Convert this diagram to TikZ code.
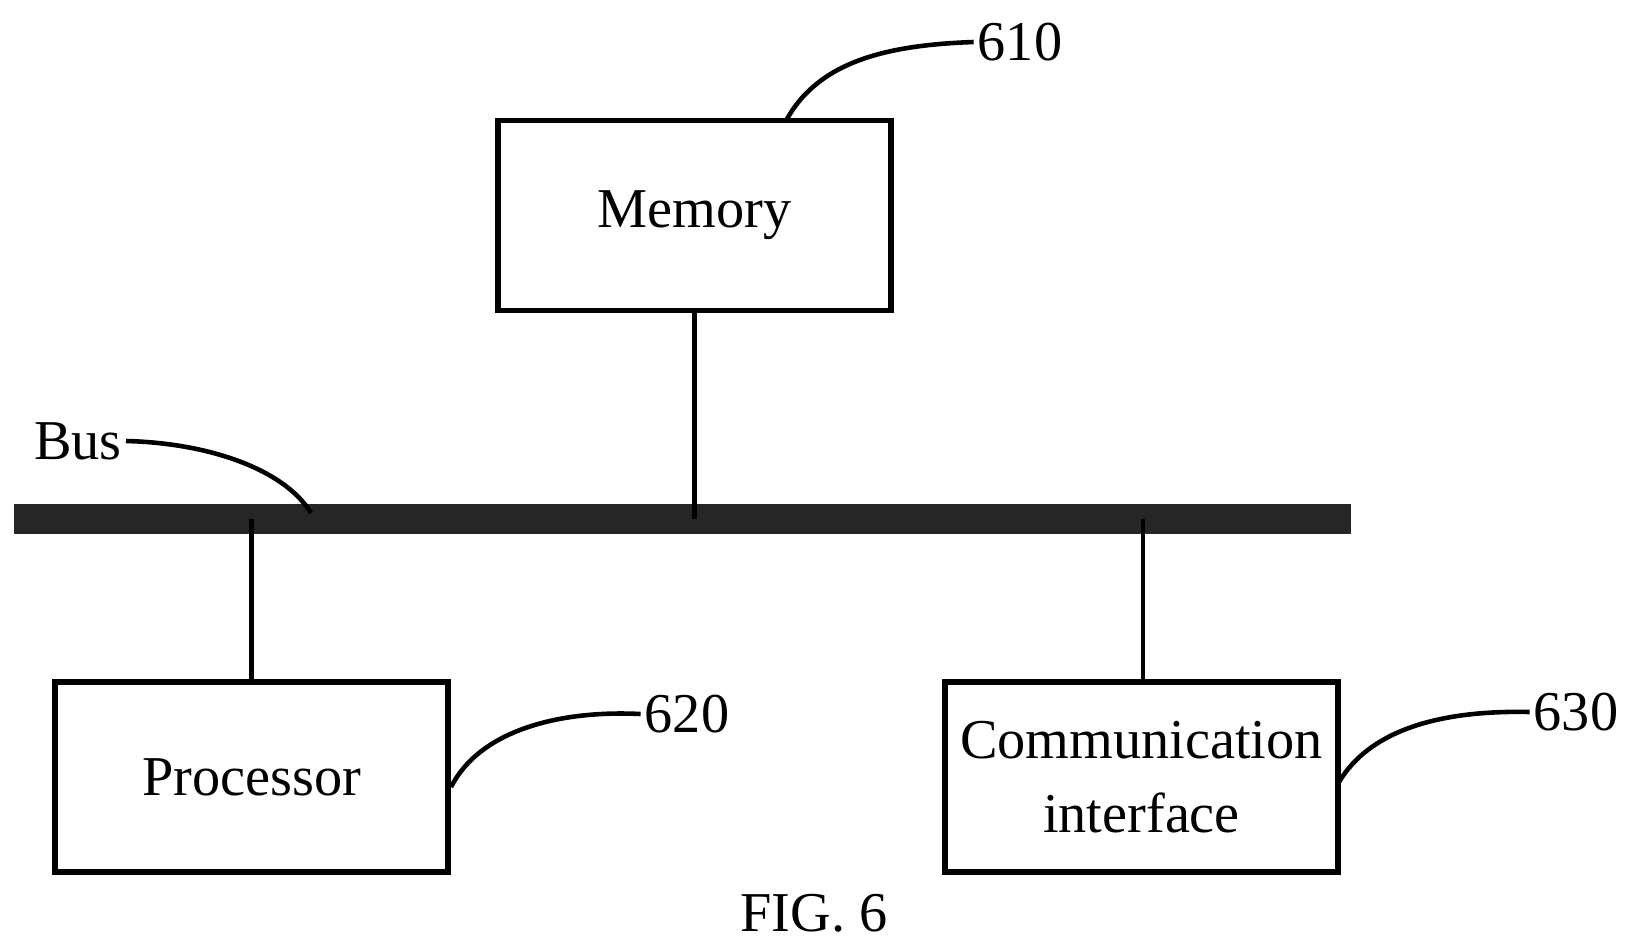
\documentclass[tikz,border=0pt]{standalone}
\usepackage{fontspec}
\setmainfont{Liberation Serif}
\tikzset{
	block/.style={draw=black, line width=1.6pt, minimum width=3.93cm, minimum height=1.9cm, align=center, font=\fontsize{16}{21}\selectfont},
	lbl/.style={font=\fontsize{16}{19}\selectfont, inner sep=1pt},
	lead/.style={line width=1.3pt}
}
\begin{document}
\begin{tikzpicture}[x=0.01cm, y=-0.01cm]
	\useasboundingbox (0,0) rectangle (1633,951);

	\node[block] (mem) at (694.5, 215.5) {Memory};
	\node[block] (proc) at (251.5, 777) {Processor};
	\node[block] (comm) at (1141.5, 777) {Communication\\interface};

	% bus
	\coordinate (busl) at (14, 519);
	\coordinate (busr) at (1351, 519);
	\draw[line width=3mm, black!85] (busl) -- (busr);

	\coordinate (bmem) at (mem.south |- busl);
	\coordinate (bproc) at (proc.north |- busl);
	\coordinate (bcomm) at (1143, 519);
	\draw[line width=1.3pt] (mem.south) -- (bmem);
	\draw[line width=1.3pt] (bproc) -- (proc.north);
	\draw[line width=1.3pt] (bcomm) -- (bcomm |- comm.north);

	% labels
	\node[lbl] (l610) at (1020, 42) {610};
	\node[lbl] (l620) at (687, 714) {620};
	\node[lbl] (l630) at (1576, 712) {630};
	\node[lbl] (lbus) at (78, 441) {Bus};
	\node[lbl] (fig) at (814, 913) {FIG. 6};

	\coordinate (tmem) at (787, 119);
	\coordinate (tproc) at (451, 787);
	\coordinate (tcomm) at (1339, 782);
	\coordinate (tbus) at (311, 513);
	\draw[lead] (tmem) .. controls (820, 60) and (890, 45) .. (l610.west);
	\draw[lead] (tproc) .. controls (480, 730) and (560, 710) .. (l620.west);
	\draw[lead] (tcomm) .. controls (1370, 730) and (1440, 710) .. (l630.west);
	\draw[lead] (lbus.east) .. controls (210, 443) and (285, 470) .. (tbus);
\end{tikzpicture}
\end{document}
